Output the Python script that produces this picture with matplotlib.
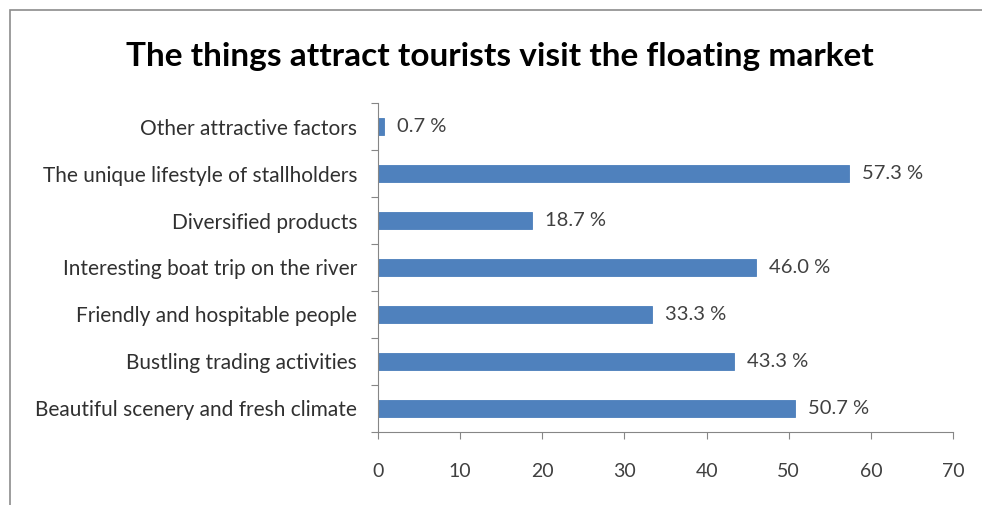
import matplotlib.pyplot as plt
from matplotlib.patches import Rectangle

# attraction factors, bottom to top
factors = [
    "Beautiful scenery and fresh climate",
    "Bustling trading activities",
    "Friendly and hospitable people",
    "Interesting boat trip on the river",
    "Diversified products",
    "The unique lifestyle of stallholders",
    "Other attractive factors",
]
percent = [50.7, 43.3, 33.3, 46.0, 18.7, 57.3, 0.7]
xticks = [0, 10, 20, 30, 40, 50, 60, 70]

plt.rcParams['font.family'] = ['Lato', 'DejaVu Sans']

fig = plt.figure(figsize=(9.82, 5.05), dpi=100)
ax = fig.add_axes([0.385, 0.1446, 0.5855, 0.6514])

pos = list(range(len(factors)))
ax.barh(pos, percent, height=0.38, color='#4f81bd', edgecolor='#4a7ebb', linewidth=0.6)

for y, v in zip(pos, percent):
    ax.text(v + 1.6, y, f"{v:.1f} %", va='center', ha='left', fontsize=14.5, color='#404040')

ax.set_xlim(0, 70)
ax.set_ylim(-0.5, len(factors) - 0.5)
ax.set_xticks(xticks)
ax.set_xticklabels([str(t) for t in xticks], fontsize=14, color='#404040')
ax.tick_params(axis='x', length=5, color='#868686', pad=17)

# category labels sit between boundary ticks
ax.set_yticks([p - 0.5 for p in pos] + [len(factors) - 0.5])
ax.set_yticklabels([])
ax.tick_params(axis='y', length=5, color='#868686')
ax.set_yticks(pos, minor=True)
ax.set_yticklabels(factors, minor=True, fontsize=15, color='#303030')
ax.tick_params(axis='y', which='minor', length=0, pad=15)

for s in ['top', 'right']:
    ax.spines[s].set_visible(False)
for s in ['left', 'bottom']:
    ax.spines[s].set_color('#868686')

fig.text(0.509, 0.889, "The things attract tourists visit the floating market",
         ha='center', va='center', fontsize=24, fontweight='bold', color='black')

# outer chart frame
fig.patches.append(Rectangle((10 / 982, -0.1), 1.2, 1.1 - 10 / 505,
                             transform=fig.transFigure, fill=False,
                             edgecolor='#8c8c8c', linewidth=1.2))

fig.savefig("out.png", dpi=100)
